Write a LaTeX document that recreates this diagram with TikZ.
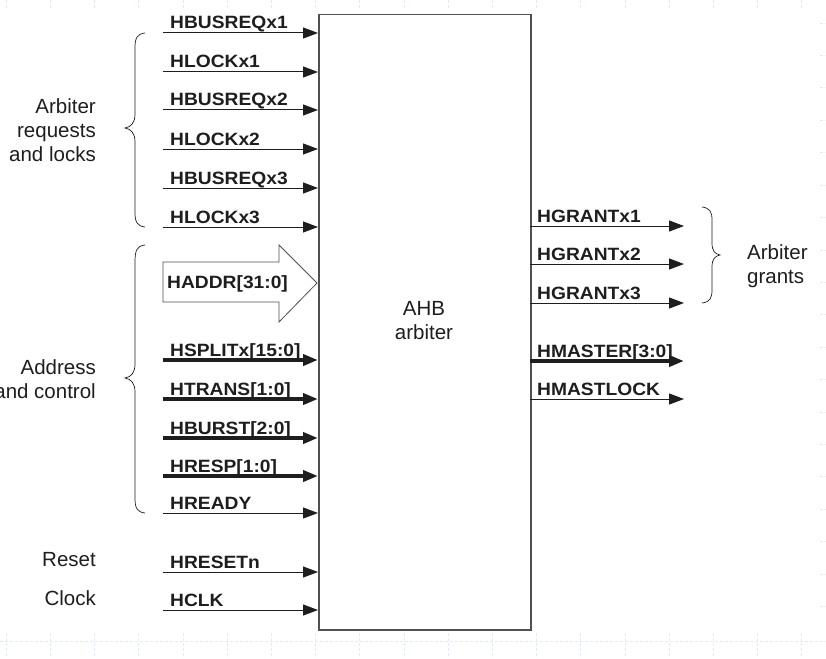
\documentclass[tikz,border=0pt]{standalone}
\usepackage{fontspec}
\setmainfont{Liberation Sans}
\newfontfamily\sigfont[FakeStretch=1.08]{Liberation Sans Bold}
\usetikzlibrary{arrows.meta}
\definecolor{ink}{HTML}{1E1E1E}
\definecolor{boxc}{HTML}{505050}
\definecolor{gridc}{HTML}{E3E9F7}
\tikzset{
  sig/.style={draw=ink, line width=1pt, -{Triangle[length=15pt,width=11pt]}},
  bus/.style={draw=ink, line width=4pt, -{Triangle[length=15pt,width=11pt]}},
  siglbl/.style={anchor=base west, inner sep=0pt, text=ink, font=\sigfont\fontsize{17.8}{20}\selectfont},
  grplbl/.style={inner sep=0pt, text=ink, font=\fontsize{20.5}{24}\selectfont},
  brace/.style={draw=ink, line width=0.7pt},
  gridln/.style={draw=gridc, line width=0.6pt, dash pattern=on 3pt off 2pt},
}
\begin{document}
\begin{tikzpicture}[x=1pt,y=-1pt]
\useasboundingbox (0,0) rectangle (826,658);
\fill[white] (0,0) rectangle (826,658);
% faint background grid
\draw[gridln] (0,641) -- (826,641);
\foreach \k in {0,...,18} {
  \draw[gridln] (6+44.2*\k,633) -- (6+44.2*\k,658);
  \draw[gridln] (6+44.2*\k,0) -- (6+44.2*\k,8);
}
\foreach \k in {0,...,18} {
  \draw[gridln] (820,23+32.4*\k) -- (826,23+32.4*\k);
}
% main box
\node[draw=boxc, line width=1.5pt, fill=white, minimum width=212pt, minimum height=615pt, inner sep=0pt, anchor=north west] (arb) at (318,14) {};
\node[grplbl, align=center] (arbt) at (424,321) {AHB\\arbiter};
% inputs
\foreach \nm/\yy/\st/\txt in {
  i1/33/sig/HBUSREQx1,
  i2/72/sig/HLOCKx1,
  i3/110/sig/HBUSREQx2,
  i4/149/sig/HLOCKx2,
  i5/188/sig/HBUSREQx3,
  i6/227/sig/HLOCKx3,
  i7/360/bus/HSPLITx[15:0],
  i8/399/bus/HTRANS[1:0],
  i9/438/bus/HBURST[2:0],
  i10/476/bus/HRESP[1:0],
  i11/513/sig/HREADY,
  i12/572/sig/HRESETn,
  i13/610/sig/HCLK} {
  \coordinate (\nm s) at (163,\yy);
  \coordinate (\nm e) at (318,\yy);
  \draw[\st] (\nm s) -- (\nm e);
  \node[siglbl] (\nm l) at (170,\yy-4) {\txt};
}
% HADDR wide arrow
\coordinate (ha1) at (163,262);
\coordinate (ha2) at (279,262);
\coordinate (ha3) at (279,245);
\coordinate (ha4) at (317,283);
\coordinate (ha5) at (279,322);
\coordinate (ha6) at (279,302);
\coordinate (ha7) at (163,302);
\draw[draw=boxc, line width=0.8pt, fill=white] (ha1) -- (ha2) -- (ha3) -- (ha4) -- (ha5) -- (ha6) -- (ha7) -- cycle;
\node[siglbl, anchor=west] (hal) at (167,284) {HADDR[31:0]};
% outputs
\foreach \nm/\yy/\st/\txt in {
  o1/226/sig/HGRANTx1,
  o2/264/sig/HGRANTx2,
  o3/303/sig/HGRANTx3,
  o4/361/bus/HMASTER[3:0],
  o5/399/sig/HMASTLOCK} {
  \coordinate (\nm s) at (530,\yy);
  \coordinate (\nm e) at (684,\yy);
  \draw[\st] (\nm s) -- (\nm e);
  \node[siglbl] (\nm l) at (537,\yy-4) {\txt};
}
% left brace 1
\draw[brace] (145,33) .. controls (137,34) and (135,38) .. (135,48)
  -- (135,114) .. controls (135,123) and (131,127) .. (125,128)
  .. controls (131,129) and (135,133) .. (135,142)
  -- (135,212) .. controls (135,222) and (137,226) .. (145,227);
% left brace 2
\draw[brace] (145,245) .. controls (137,246) and (135,250) .. (135,262)
  -- (135,364) .. controls (135,373) and (131,377) .. (125,378)
  .. controls (131,379) and (135,383) .. (135,392)
  -- (135,498) .. controls (135,508) and (137,512) .. (145,513);
% right brace
\draw[brace] (702,207) .. controls (710,208) and (712,212) .. (712,220)
  -- (712,243) .. controls (712,251) and (715,254) .. (720,255)
  .. controls (715,256) and (712,259) .. (712,267)
  -- (712,290) .. controls (712,298) and (710,302) .. (702,303);
% group labels
\node[grplbl, align=right, anchor=east] (g1) at (96,130) {Arbiter\\requests\\and locks};
\node[grplbl, align=right, anchor=east] (g2) at (96,379) {Address\\and control};
\node[grplbl, align=left, anchor=west] (g3) at (747,266) {Arbiter\\grants};
\node[grplbl, anchor=east] (g4) at (96,560) {Reset};
\node[grplbl, anchor=east] (g5) at (96,598) {Clock};
\end{tikzpicture}
\end{document}
